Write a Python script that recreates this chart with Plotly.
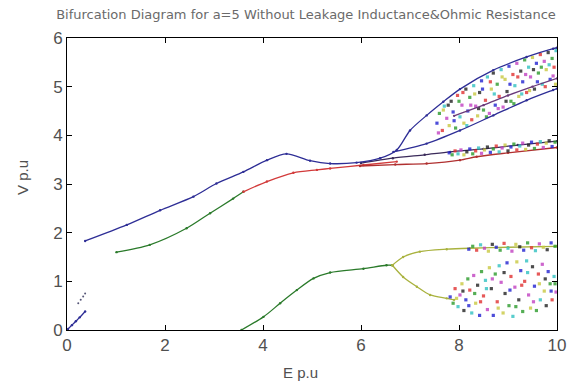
import plotly.graph_objects as go

# ---------------- data ----------------
title_text = "Bifurcation Diagram for a=5 Without Leakage Inductance&Ohmic Resistance"
x_title = "E p.u"
y_title = "V p.u"
x_ticks = [0, 2, 4, 6, 8, 10]
y_ticks = [0, 1, 2, 3, 4, 5, 6]

# small pieces near the origin
near0_E = [0.02, 0.10, 0.18, 0.26, 0.37]
near0_V = [0.02, 0.10, 0.18, 0.26, 0.38]
near0b_E = [0.23, 0.28, 0.33, 0.37]
near0b_V = [0.55, 0.62, 0.69, 0.75]

# upper (blue) branch, continuing into the top bifurcation branch
upper_E = [0.37, 1.22, 1.90, 2.58, 3.05, 3.60, 4.08, 4.48, 4.96, 5.37, 5.91, 6.39, 6.73, 7.00, 7.34, 7.68, 8.02, 8.70, 9.38, 9.92, 10.0]
upper_V = [1.83, 2.16, 2.46, 2.74, 3.01, 3.25, 3.49, 3.62, 3.48, 3.42, 3.44, 3.53, 3.70, 4.10, 4.41, 4.69, 4.95, 5.34, 5.61, 5.78, 5.80]

# second upper branch after the split near E=6.7
branch2_E = [6.66, 7.34, 8.02, 8.70, 9.38, 9.92, 10.0]
branch2_V = [3.66, 3.83, 4.10, 4.41, 4.72, 4.93, 4.96]
branch2b_E = [7.90, 8.50, 9.00, 9.50, 10.0]
branch2b_V = [4.40, 4.62, 4.82, 5.00, 5.17]

# middle branch: green part then red part
mid_green_E = [1.01, 1.69, 2.44, 2.92, 3.39, 3.60]
mid_green_V = [1.60, 1.75, 2.09, 2.40, 2.70, 2.84]
mid_red_E = [3.60, 4.08, 4.62, 5.10, 5.37, 6.05, 6.73]
mid_red_V = [2.84, 3.05, 3.23, 3.29, 3.32, 3.39, 3.46]
mid_lineA_E = [6.00, 6.65, 7.30, 7.82, 8.50, 9.20, 10.0]
mid_lineA_V = [3.43, 3.53, 3.60, 3.66, 3.72, 3.80, 3.88]
mid_lineB_E = [5.98, 6.70, 7.34, 8.02, 8.36, 9.00, 10.0]
mid_lineB_V = [3.37, 3.40, 3.42, 3.49, 3.56, 3.64, 3.75]

# lower branch
low_green_E = [3.56, 4.01, 4.35, 4.69, 5.03, 5.37, 6.05, 6.52, 6.64]
low_green_V = [0.00, 0.27, 0.55, 0.82, 1.06, 1.18, 1.26, 1.33, 1.33]
low_up_E = [6.64, 6.86, 7.20, 7.75, 8.22, 9.00, 10.0]
low_up_V = [1.33, 1.50, 1.61, 1.66, 1.68, 1.70, 1.72]
low_down_E = [6.64, 6.86, 7.14, 7.41, 7.75, 7.90]
low_down_V = [1.33, 1.09, 0.89, 0.72, 0.65, 0.62]

# chaotic clouds
cloud_up_E = [7.55, 7.60, 7.66, 7.70, 7.75, 7.80, 7.84, 7.88, 7.93, 7.97, 8.02, 8.06, 8.10, 8.14, 8.18, 8.22,
              8.26, 8.30, 8.34, 8.38, 8.42, 8.46, 8.50, 8.54, 8.58, 8.62, 8.66, 8.70, 8.74, 8.78, 8.82, 8.86,
              8.90, 8.94, 8.98, 9.02, 9.06, 9.10, 9.14, 9.18, 9.22, 9.26, 9.30, 9.34, 9.38, 9.42, 9.46, 9.50,
              9.54, 9.58, 9.62, 9.66, 9.70, 9.74, 9.78, 9.82, 9.86, 9.90, 9.94, 9.98,
              7.58, 7.68, 7.78, 7.90, 8.00, 8.08, 8.16, 8.24, 8.32, 8.40, 8.48, 8.56, 8.64, 8.72, 8.80, 8.88,
              8.96, 9.04, 9.12, 9.20, 9.28, 9.36, 9.44, 9.52, 9.60, 9.68, 9.76, 9.84, 9.92, 9.97]
cloud_up_V = [4.25, 4.45, 4.10, 4.60, 4.35, 4.20, 4.70, 4.48, 4.15, 4.82, 4.38, 4.62, 4.25, 4.95, 4.50, 4.78,
              4.32, 5.02, 4.60, 4.40, 4.88, 5.12, 4.52, 4.72, 5.20, 4.45, 4.95, 5.28, 4.62, 5.05, 4.80, 5.35,
              4.58, 5.15, 4.90, 5.42, 4.70, 5.25, 5.02, 5.48, 4.80, 5.32, 5.10, 5.55, 4.88, 5.40, 5.20, 5.60,
              4.95, 5.48, 5.28, 5.66, 5.05, 5.52, 5.35, 5.70, 5.15, 5.58, 5.40, 5.74,
              4.05, 4.52, 4.62, 4.30, 4.70, 4.88, 4.20, 4.62, 4.85, 4.55, 4.95, 4.38, 5.10, 4.85, 4.55, 5.20,
              4.70, 5.05, 4.65, 5.20, 4.85, 5.25, 4.92, 5.35, 5.10, 5.40, 5.00, 5.45, 5.22, 5.05]

cloud_mid_E = [7.80, 7.86, 7.92, 7.98, 8.04, 8.10, 8.16, 8.22, 8.28, 8.34, 8.40, 8.46, 8.52, 8.58, 8.64, 8.70,
               8.76, 8.82, 8.88, 8.94, 9.00, 9.06, 9.12, 9.18, 9.24, 9.30, 9.36, 9.42, 9.48, 9.54, 9.60, 9.66,
               9.72, 9.78, 9.84, 9.90, 9.96]
cloud_mid_V = [3.64, 3.60, 3.68, 3.62, 3.70, 3.60, 3.66, 3.72, 3.62, 3.68, 3.74, 3.63, 3.70, 3.76, 3.65, 3.72,
               3.78, 3.66, 3.74, 3.80, 3.68, 3.76, 3.82, 3.70, 3.78, 3.84, 3.71, 3.80, 3.86, 3.73, 3.82, 3.87,
               3.75, 3.84, 3.89, 3.77, 3.86]

cloud_band_E = [8.20, 8.28, 8.36, 8.44, 8.52, 8.60, 8.68, 8.76, 8.84, 8.92, 9.00, 9.08, 9.16, 9.24, 9.32, 9.40,
                9.48, 9.56, 9.64, 9.72, 9.80, 9.88, 9.96]
cloud_band_V = [1.66, 1.72, 1.64, 1.75, 1.68, 1.62, 1.76, 1.70, 1.64, 1.78, 1.68, 1.62, 1.76, 1.71, 1.64, 1.79,
                1.69, 1.63, 1.77, 1.70, 1.65, 1.79, 1.72]

cloud_low_E = [7.82, 7.88, 7.92, 7.98, 8.02, 8.06, 8.10, 8.14, 8.18, 8.22, 8.26, 8.30, 8.34, 8.38, 8.42, 8.46,
               8.50, 8.54, 8.58, 8.62, 8.66, 8.70, 8.74, 8.78, 8.82, 8.86, 8.90, 8.94, 8.98, 9.02, 9.06, 9.10,
               9.14, 9.18, 9.22, 9.26, 9.30, 9.34, 9.38, 9.42, 9.46, 9.50, 9.54, 9.58, 9.62, 9.66, 9.70, 9.74,
               9.78, 9.82, 9.86, 9.90, 9.94, 9.98,
               7.95, 8.08, 8.20, 8.32, 8.44, 8.56, 8.68, 8.80, 8.92, 9.04, 9.16, 9.28, 9.40, 9.52, 9.64, 9.76,
               9.88, 9.96]
cloud_low_V = [0.68, 0.55, 0.85, 0.48, 0.72, 0.95, 0.40, 0.62, 1.05, 0.82, 0.35, 1.12, 0.55, 0.92, 0.30, 1.20,
               0.70, 1.02, 0.42, 1.28, 0.85, 0.30, 1.15, 0.58, 1.32, 0.98, 0.35, 0.75, 1.38, 0.50, 1.10, 0.28,
               0.88, 1.40, 0.62, 1.22, 0.38, 1.00, 1.42, 0.72, 0.45, 1.30, 0.90, 0.40, 1.15, 0.62, 1.35, 0.80,
               0.50, 1.20, 0.95, 0.62, 1.10, 0.78,
               0.65, 0.80, 0.50, 0.75, 0.58, 0.85, 1.05, 0.45, 1.18, 0.82, 0.48, 0.92, 1.18, 0.58, 0.95, 1.05,
               0.80, 0.95]

# ---------------- styling ----------------
FONT = "Liberation Sans, Arial, sans-serif"
TEXT = "#505050"
BLUE = "#2e2e96"
GREEN = "#2a7a2a"
RED = "#d23a3a"
YEL = "#a9b23e"
DARK = "#3a2a5a"
cycle = ["#2020d0", "#2a9a2a", "#e03030", "#30c0c0", "#c040c0", "#c8c840", "#202020"]

fig = go.Figure()


def add_line(xs, ys, color, width=1.3, msize=2.4):
    fig.add_trace(go.Scatter(x=xs, y=ys, mode="lines+markers",
                             line=dict(color=color, width=width, shape="spline", smoothing=0.8),
                             marker=dict(color=color, size=msize),
                             hoverinfo="skip", showlegend=False, cliponaxis=True))


def add_cloud(xs, ys, size=3.2):
    cols = [cycle[i % len(cycle)] for i in range(len(xs))]
    fig.add_trace(go.Scatter(x=xs, y=ys, mode="markers",
                             marker=dict(color=cols, size=size, symbol="square", opacity=0.8),
                             hoverinfo="skip", showlegend=False))


add_line(near0_E, near0_V, BLUE)
fig.add_trace(go.Scatter(x=near0b_E, y=near0b_V, mode="markers",
                         marker=dict(color="#555577", size=2),
                         hoverinfo="skip", showlegend=False))
add_line(mid_green_E, mid_green_V, GREEN)
add_line(mid_red_E, mid_red_V, RED)
add_line(mid_lineB_E, mid_lineB_V, "#b03030")
add_line(mid_lineA_E, mid_lineA_V, DARK)
add_line(low_green_E, low_green_V, GREEN)
add_line(low_up_E, low_up_V, YEL)
add_line(low_down_E, low_down_V, YEL)
add_cloud(cloud_mid_E, cloud_mid_V)
add_cloud(cloud_band_E, cloud_band_V)
add_cloud(cloud_low_E, cloud_low_V)
add_cloud(cloud_up_E, cloud_up_V)
add_line(branch2b_E, branch2b_V, "#6a3a7a")
add_line(branch2_E, branch2_V, BLUE)
add_line(upper_E, upper_V, BLUE)

fig.update_layout(
    width=572, height=385,
    margin=dict(l=67, r=15, t=38, b=55, autoexpand=False),
    paper_bgcolor="white", plot_bgcolor="white",
    font=dict(family=FONT, color=TEXT),
    title=dict(text=title_text, x=(306 - 67) / 490, xanchor="center", xref="paper",
               y=1 - 14 / 385, yref="container", yanchor="middle", automargin=False,
               font=dict(size=13, color="#6a6a6a", family="DejaVu Sans, sans-serif")),
    annotations=[
        dict(text=x_title, xref="paper", yref="paper", x=(300 - 67) / 490, y=(330 - 372) / 292,
             xanchor="center", yanchor="middle", showarrow=False,
             font=dict(size=15, color=TEXT, family=FONT)),
        dict(text=y_title, xref="paper", yref="paper", x=(22 - 67) / 490, y=(330 - 178) / 292,
             xanchor="center", yanchor="middle", showarrow=False, textangle=-90,
             font=dict(size=15, color=TEXT, family=FONT)),
    ],
)
fig.update_xaxes(range=[0, 10], tickvals=x_ticks, ticks="inside", ticklen=5, tickcolor="black",
                 showline=True, linecolor="black", linewidth=1, mirror="ticks", showgrid=False,
                 zeroline=False, automargin=False, tickfont=dict(size=17, color=TEXT))
fig.update_yaxes(range=[0, 6], tickvals=y_ticks, ticks="inside", ticklen=5, tickcolor="black",
                 showline=True, linecolor="black", linewidth=1, mirror="ticks", showgrid=False,
                 zeroline=False, automargin=False, tickfont=dict(size=17, color=TEXT))

fig.write_html("out.html", config={"displayModeBar": False},
               post_script="document.body.style.margin='0';")
